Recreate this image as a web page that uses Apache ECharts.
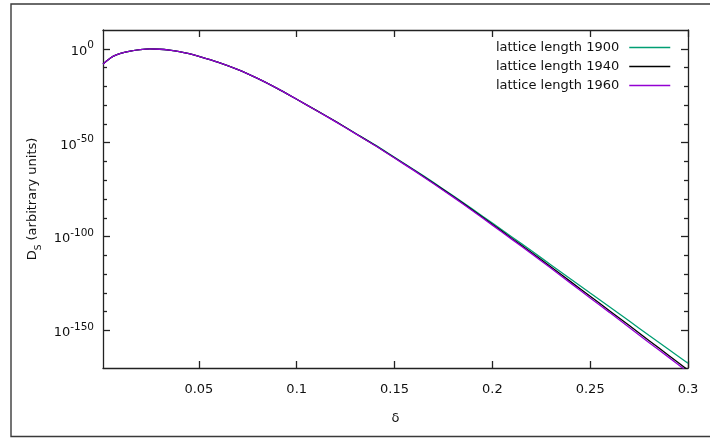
<!DOCTYPE html>
<html>
<head>
<meta charset="utf-8">
<script src="https://cdn.jsdelivr.net/npm/echarts@6/dist/echarts.min.js"></script>
<style>
  html, body { margin: 0; padding: 0; background: #fff; }
  #chart { width: 710px; height: 438px; }
</style>
</head>
<body>
<div id="chart"></div>
<script>
// δ sample points
const delta = [0.001, 0.0025, 0.005, 0.0075, 0.01, 0.015, 0.02, 0.025, 0.03, 0.035, 0.04, 0.045,
  0.05, 0.06, 0.07, 0.08, 0.09, 0.10, 0.11, 0.12, 0.13, 0.14, 0.15, 0.16, 0.17, 0.18,
  0.19, 0.20, 0.21, 0.22, 0.23, 0.24, 0.25, 0.26, 0.27, 0.28, 0.29, 0.30];

// log10 of D_S (arbitrary units) for each lattice length
const logD1900 = [-8.2, -6.8, -4.8, -3.4, -2.4, -1.2, -0.45, -0.1, -0.25, -0.75, -1.5, -2.6,
  -4.0, -7.2, -11.1, -15.8, -21.1, -26.9, -32.75, -38.7, -45.0, -51.2, -57.8, -64.4, -71.3, -78.3,
  -85.5, -92.8, -100.2, -107.6, -115.1, -122.6, -130.1, -137.5, -145.0, -152.6, -160.0, -167.5];
const logD1940 = [-8.2, -6.8, -4.8, -3.4, -2.4, -1.2, -0.45, -0.1, -0.25, -0.75, -1.5, -2.6,
  -4.0, -7.2, -11.1, -15.8, -21.1, -26.9, -32.8, -38.8, -45.1, -51.4, -58.0, -64.7, -71.6, -78.7,
  -86.0, -93.4, -101.0, -108.5, -116.2, -124.0, -131.8, -139.6, -147.4, -155.3, -163.2, -171.1];
const logD1960 = [-8.2, -6.8, -4.8, -3.4, -2.4, -1.2, -0.45, -0.1, -0.25, -0.75, -1.5, -2.6,
  -4.0, -7.2, -11.1, -15.8, -21.1, -26.9, -32.85, -38.9, -45.2, -51.5, -58.2, -64.9, -71.9, -79.0,
  -86.4, -93.9, -101.5, -109.1, -116.9, -124.8, -132.7, -140.5, -148.4, -156.4, -164.2, -172.2];

const seriesNames = ['lattice length 1900', 'lattice length 1940', 'lattice length 1960'];
const seriesColors = ['#009e73', '#000000', '#9400d3'];

// axis ticks
const xTicks = [0.05, 0.1, 0.15, 0.2, 0.25, 0.3];
const yMajorTicks = [0, -50, -100, -150];
const yMinorTicks = [-10, -20, -30, -40, -60, -70, -80, -90, -110, -120, -130, -140];

const FONT = 'DejaVu Sans';
const INK = '#111';
const frameStyle = { color: '#222', width: 1.3 };

const toPairs = (ys) => delta.map((x, i) => [x, ys[i]]);

const xRange = { min: 0.001, max: 0.3 };
const yRange = { min: -170, max: 10 };

// value axis that only draws its line and ticks (frame sides)
function tickAxis(extra) {
  return Object.assign({
    type: 'value',
    splitLine: { show: false },
    axisLine: { show: true, onZero: false, lineStyle: frameStyle },
    axisLabel: { show: false }
  }, extra);
}

const chart = echarts.init(document.getElementById('chart'), null, { renderer: 'canvas' });

chart.setOption({
  animation: false,
  backgroundColor: '#fff',
  textStyle: { fontFamily: FONT, color: INK },
  grid: { left: 103, right: 22, top: 30, bottom: 70, outerBoundsMode: 'none' },
  graphic: [{
    type: 'rect',
    silent: true,
    shape: { x: 11, y: 4, width: 720, height: 432.5 },
    style: { fill: 'none', stroke: '#3a3a3a', lineWidth: 1.4 }
  }],
  legend: {
    orient: 'vertical',
    right: 34,
    top: 36,
    align: 'right',
    itemWidth: 41,
    itemHeight: 14,
    itemGap: 6,
    data: seriesNames,
    itemStyle: { opacity: 0 },
    lineStyle: { width: 1.5 },
    textStyle: { fontFamily: FONT, fontSize: 13, color: INK, padding: [0, 5, 0, 0] }
  },
  xAxis: [
    tickAxis({
      position: 'bottom',
      min: xRange.min, max: xRange.max,
      name: 'δ',
      nameLocation: 'middle',
      nameGap: 44,
      nameTextStyle: { fontFamily: FONT, fontSize: 13, color: INK },
      axisTick: { show: true, inside: true, length: 7, customValues: xTicks, lineStyle: frameStyle },
      axisLabel: {
        show: true, customValues: xTicks, margin: 15,
        fontFamily: FONT, fontSize: 13, color: INK,
        formatter: (v) => String(+v.toFixed(2))
      }
    }),
    tickAxis({
      position: 'top',
      min: xRange.min, max: xRange.max,
      axisTick: { show: true, inside: true, length: 7, customValues: xTicks, lineStyle: frameStyle },
      axisLabel: { show: false, customValues: xTicks }
    })
  ],
  yAxis: [
    tickAxis({
      position: 'left',
      min: yRange.min, max: yRange.max,
      name: '{d|D}{sub|S}{d| (arbitrary units)}',
      nameLocation: 'middle',
      nameRotate: 90,
      nameGap: 60,
      nameTextStyle: {
        fontFamily: FONT, fontSize: 13, color: INK,
        rich: {
          d: { fontFamily: FONT, fontSize: 13, color: INK, lineHeight: 20, verticalAlign: 'middle' },
          sub: { fontFamily: FONT, fontSize: 9, color: INK, lineHeight: 20, verticalAlign: 'bottom' }
        }
      },
      axisTick: { show: true, inside: true, length: 7, customValues: yMajorTicks, lineStyle: frameStyle },
      axisLabel: {
        show: true, customValues: yMajorTicks, margin: 9,
        formatter: (v) => '{b|10}{s|' + Math.round(v) + '}',
        rich: {
          b: { fontFamily: FONT, fontSize: 13, color: INK, lineHeight: 18, verticalAlign: 'bottom' },
          s: { fontFamily: FONT, fontSize: 10.5, color: INK, lineHeight: 18, verticalAlign: 'top' }
        }
      }
    }),
    tickAxis({
      position: 'left',
      min: yRange.min, max: yRange.max,
      axisLine: { show: false, onZero: false },
      axisTick: { show: true, inside: true, length: 4, customValues: yMinorTicks, lineStyle: frameStyle },
      axisLabel: { show: false, customValues: yMinorTicks }
    }),
    tickAxis({
      position: 'right',
      min: yRange.min, max: yRange.max,
      axisTick: { show: true, inside: true, length: 7, customValues: yMajorTicks, lineStyle: frameStyle },
      axisLabel: { show: false, customValues: yMajorTicks }
    }),
    tickAxis({
      position: 'right',
      min: yRange.min, max: yRange.max,
      axisLine: { show: false, onZero: false },
      axisTick: { show: true, inside: true, length: 4, customValues: yMinorTicks, lineStyle: frameStyle },
      axisLabel: { show: false, customValues: yMinorTicks }
    })
  ],
  series: [logD1900, logD1940, logD1960].map((ys, i) => ({
    name: seriesNames[i],
    type: 'line',
    xAxisIndex: 0,
    yAxisIndex: 0,
    data: toPairs(ys),
    showSymbol: false,
    symbol: 'none',
    smooth: 0.25,
    clip: true,
    color: seriesColors[i],
    lineStyle: { color: seriesColors[i], width: 1.3 }
  }))
});
</script>
</body>
</html>
